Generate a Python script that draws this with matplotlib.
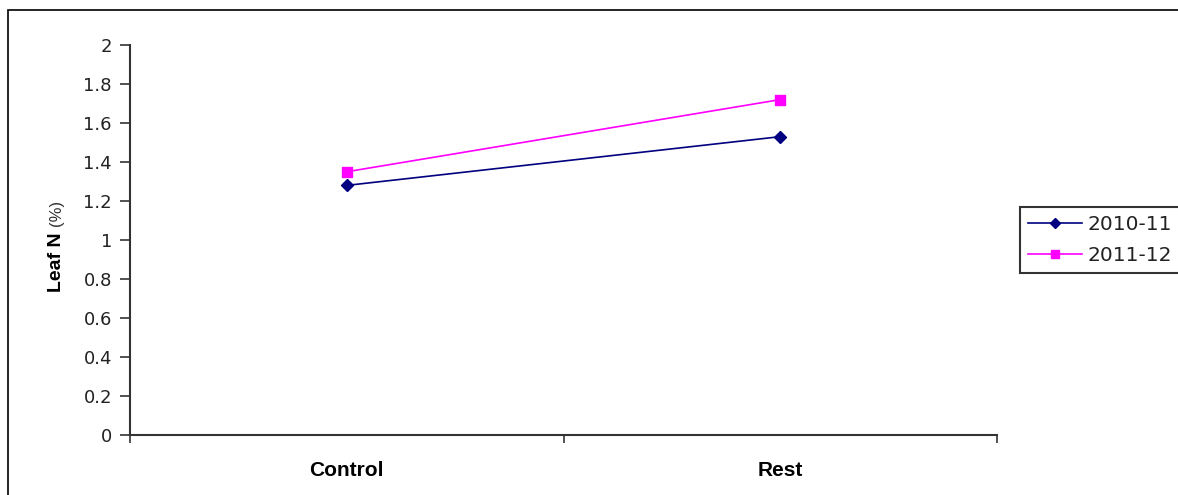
import matplotlib
matplotlib.use("Agg")
import matplotlib.pyplot as plt
from matplotlib.patches import Rectangle

categories = ["Control", "Rest"]
series_names = ["2010-11", "2011-12"]
values_2010 = [1.28, 1.53]
values_2011 = [1.35, 1.72]
yticks = [0, 0.2, 0.4, 0.6, 0.8, 1, 1.2, 1.4, 1.6, 1.8, 2]
ytick_labels = ["0", "0.2", "0.4", "0.6", "0.8", "1", "1.2", "1.4", "1.6", "1.8", "2"]

plt.rcParams['font.family'] = ['DejaVu Sans']

W, H = 1178, 495
fig = plt.figure(figsize=(W / 100, H / 100), dpi=100)
ax = fig.add_axes([130 / W, 1 - 435 / H, (997 - 130) / W, (435 - 45) / H])

x = [i + 0.5 for i in range(len(categories))]
ax.plot(x, values_2010, color="#000080", marker="D", markersize=6, linewidth=1.2,
        label=series_names[0], clip_on=False)
ax.plot(x, values_2011, color="#FF00FF", marker="s", markersize=7, linewidth=1.2,
        label=series_names[1], clip_on=False)

ax.set_xlim(0, len(categories))
ax.set_ylim(0, 2)
ax.set_yticks(yticks)
ax.set_yticklabels(ytick_labels, fontsize=13, color="#222222")
ax.set_xticks(range(len(categories) + 1))
ax.set_xticklabels([])
ax.set_xticks(x, minor=True)
ax.set_xticklabels(categories, minor=True, fontsize=15, fontweight="bold",
                   family="Liberation Sans")
ax.tick_params(axis="x", which="minor", length=0, pad=19)
ax.tick_params(axis="x", which="major", length=6, direction="out", width=1.2, color="#333333")
ax.tick_params(axis="y", length=7, direction="out", width=1.2, pad=6, color="#333333")

for s in ["top", "right"]:
    ax.spines[s].set_visible(False)
for s in ["left", "bottom"]:
    ax.spines[s].set_linewidth(1.5)
    ax.spines[s].set_color("#333333")

# y-axis title: bold "Leaf N" followed by a smaller "(%)"
fig.text(61 / W, 1 - 292 / H, "Leaf N", rotation=90, rotation_mode="anchor",
         ha="left", va="baseline", fontsize=14, fontweight="bold",
         family="Liberation Sans")
fig.text(61 / W, 1 - 226 / H, "(%)", rotation=90, rotation_mode="anchor",
         ha="left", va="baseline", fontsize=12, color="#333333",
         family="Liberation Sans")

leg = ax.legend(loc="upper left", bbox_to_anchor=(1020 / W, 1 - 207 / H),
                bbox_transform=fig.transFigure, fontsize=14.5, frameon=True,
                fancybox=False, edgecolor="black", borderpad=0.4,
                borderaxespad=0, handlelength=2.7, handletextpad=0.25,
                labelspacing=0.6, markerscale=0.85)
leg.get_frame().set_linewidth(1.5)
for t in leg.get_texts():
    t.set_color("#222222")

fig.patches.append(Rectangle((8 / W, -0.1), 1.2, 1 - 10 / H + 0.1,
                             transform=fig.transFigure, fill=False,
                             edgecolor="black", linewidth=1.2))

fig.savefig("out.png", dpi=100)
